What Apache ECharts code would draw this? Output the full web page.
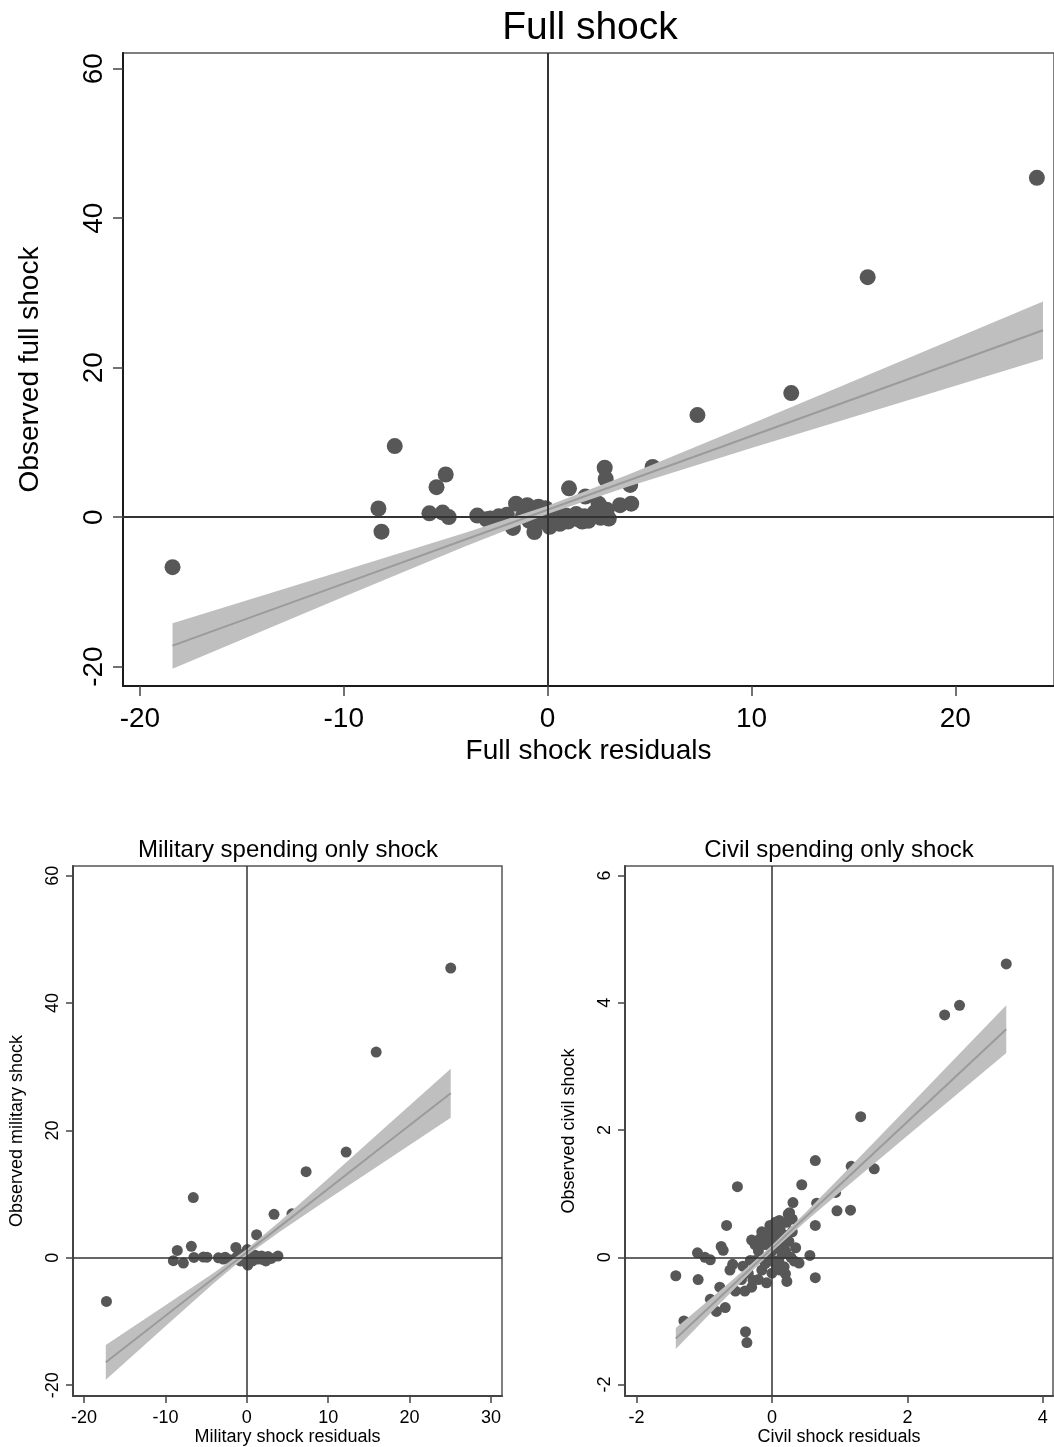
<!DOCTYPE html>
<html>
<head>
<meta charset="utf-8">
<title>Full, military and civil spending shocks</title>
<script src="https://cdn.jsdelivr.net/npm/echarts@6/dist/echarts.min.js"></script>
<style>
  html, body { margin: 0; padding: 0; background: #fff; }
  #chart { width: 1054px; height: 1447px; }
</style>
</head>
<body>
<div id="chart"></div>
<script>
// ---- Full shock: residuals vs observed ----
var fullPoints = [
  [-18.4, -6.7], [-7.5, 9.5], [-8.3, 1.15], [-8.15, -1.95], [-5.45, 4.0], [-5.0, 5.7],
  [-5.8, 0.5], [-5.15, 0.6], [-4.85, 0.0], [-3.45, 0.2], [-3.0, -0.3], [-2.8, -0.2],
  [-2.4, 0.1], [-2.0, 0.3], [-1.55, 1.8], [-1.7, -1.45], [-1.2, 0.2], [-1.0, 1.6],
  [-0.45, 1.4], [-0.65, -2.0], [-0.9, -0.5], [-0.4, 0.8], [-0.2, -0.6], [-0.1, 1.2],
  [0.1, -1.3], [0.05, -0.4], [0.5, 0.5], [0.6, -0.9], [0.9, 0.2], [1.0, -0.6],
  [1.05, 3.85], [1.4, 0.4], [1.5, -0.3], [1.85, 2.75], [1.7, -0.6], [1.8, 0.1],
  [2.0, -0.5], [2.3, 0.6], [2.5, 1.8], [2.6, -0.1], [2.8, 6.6], [2.85, 5.1],
  [2.9, 1.0], [3.0, -0.2], [3.55, 1.6], [4.1, 1.8], [4.05, 4.3], [5.15, 6.7],
  [7.35, 13.65], [11.95, 16.6], [15.7, 32.1], [24.0, 45.4]
];
var fullFitX  = [-18.4, -10, -4, 0, 4, 10, 17, 24.3];
var fullFitY  = [-17.2, -8.9, -2.97, 0.98, 4.93, 10.86, 17.78, 25.0];
var fullBandLo = [-20.3, -10.65, -3.87, 0.43, 4.13, 9.23, 15.07, 21.15];
var fullBandHi = [-14.2, -7.15, -2.07, 1.53, 5.73, 12.49, 20.49, 28.85];

// ---- Military spending only shock ----
var militaryPoints = [
  [-17.25, -6.85], [-6.58, 9.45], [-8.55, 1.15], [-9.03, -0.45], [-7.8, -0.82], [-6.82, 1.8],
  [-6.5, 0.05], [-5.34, 0.12], [-4.9, 0.1], [-3.49, 0.0], [-2.9, -0.2], [-2.67, 0.1],
  [-2.05, -0.3], [-1.35, 1.63], [-1.2, 0.2], [-0.8, -0.5], [-0.5, 0.6], [0.05, 1.3],
  [0.12, -1.15], [-0.2, -0.6], [0.4, 0.3], [0.7, -0.5], [1.2, 3.62], [1.0, 0.4],
  [1.4, -0.2], [1.8, 0.3], [2.0, -0.3], [2.34, -0.49], [2.6, 0.2], [3.0, -0.1],
  [3.82, 0.27], [3.34, 6.83], [5.54, 6.9], [7.28, 13.53], [12.2, 16.6], [15.89, 32.3],
  [25.05, 45.5]
];
var militaryFitX  = [-17.33, -10, -4, 0, 4, 10, 17, 25.05];
var militaryFitY  = [-16.41, -9.1, -3.12, 0.87, 4.86, 10.84, 17.82, 25.84];
var militaryBandLo = [-19.14, -10.73, -3.92, 0.37, 4.06, 9.22, 15.16, 21.99];
var militaryBandHi = [-13.68, -7.47, -2.32, 1.37, 5.66, 12.46, 20.48, 29.69];

// ---- Civil spending only shock ----
var civilPoints = [
  [3.46, 4.61], [2.77, 3.96], [2.55, 3.81], [1.31, 2.21], [0.64, 1.52], [1.17, 1.43],
  [1.51, 1.39], [0.44, 1.14], [-0.51, 1.11], [0.94, 1.02], [0.31, 0.86], [0.96, 0.73],
  [1.16, 0.74], [0.64, 0.5], [-0.67, 0.5], [0.24, 0.68], [0.11, 0.58], [-0.03, 0.5],
  [-0.3, 0.27], [-0.18, 0.29], [-0.75, 0.17], [-0.72, 0.11], [-1.1, 0.07], [-0.99, 0.0],
  [-0.91, -0.04], [-1.42, -0.29], [-1.09, -0.35], [-0.58, -0.11], [-0.62, -0.2], [-0.43, -0.14],
  [-0.77, -0.47], [-0.91, -0.66], [-0.82, -0.85], [-0.69, -0.79], [-1.3, -1.0], [-0.54, -0.53],
  [-0.4, -0.53], [-0.3, -0.47], [-0.28, -0.36], [-0.39, -1.17], [-0.37, -1.34], [0.2, -0.26],
  [0.22, -0.38], [0.33, -0.06], [0.4, -0.09], [0.56, 0.03], [0.64, -0.32], [0.66, 0.85],
  [-0.25, -0.05], [-0.2, 0.1], [-0.15, -0.2], [-0.1, 0.2], [-0.1, -0.1], [-0.05, 0.35],
  [-0.05, 0.0], [0.0, 0.1], [0.0, -0.25], [0.02, 0.25], [0.05, 0.4], [0.05, -0.1],
  [0.08, 0.15], [0.1, 0.3], [0.1, -0.05], [0.12, 0.45], [0.15, 0.05], [0.15, 0.2],
  [0.18, 0.35], [0.2, 0.1], [0.22, 0.55], [0.25, 0.25], [0.28, 0.0], [0.3, 0.4],
  [-0.15, 0.4], [-0.25, 0.2], [-0.35, -0.25], [-0.45, -0.35], [-0.2, -0.35], [0.05, 0.55],
  [0.18, -0.15], [0.35, 0.15], [-0.08, -0.4], [0.12, -0.2], [0.3, 0.6], [0.26, 0.7],
  [-0.32, -0.05], [0.02, -0.05]
];
var civilFitX  = [-1.42, -0.8, -0.3, 0, 0.5, 1, 2, 3.46];
var civilFitY  = [-1.275, -0.658, -0.16, 0.139, 0.637, 1.135, 2.131, 3.585];
var civilBandLo = [-1.44, -0.761, -0.222, 0.089, 0.566, 1.018, 1.911, 3.21];
var civilBandHi = [-1.11, -0.555, -0.098, 0.189, 0.708, 1.252, 2.351, 3.96];

// ---- tick values ----
var fullXTicks = [-20, -10, 0, 10, 20];
var fullYTicks = [-20, 0, 20, 40, 60];
var militaryXTicks = [-20, -10, 0, 10, 20, 30];
var militaryYTicks = [-20, 0, 20, 40, 60];
var civilXTicks = [-2, 0, 2, 4];
var civilYTicks = [-2, 0, 2, 4, 6];

var FONT = '"Liberation Sans", Arial, Helvetica, sans-serif';
var DOT = '#575757';
var BAND = '#bfbfbf';
var FIT = '#9b9b9b';

function pairs(xs, ys) {
  return xs.map(function (x, i) { return [x, ys[i]]; });
}

function xAxisDef(idx, min, max, ticks, name, big) {
  return {
    type: 'value', gridIndex: idx, min: min, max: max,
    name: name, nameLocation: 'middle', nameGap: big ? 51 : 32,
    nameTextStyle: { fontFamily: FONT, fontSize: big ? 28 : 18, color: '#000' },
    axisLine: { show: true, onZero: false, lineStyle: { color: big ? '#1a1a1a' : '#444', width: 2 } },
    axisTick: { show: true, customValues: ticks, length: big ? 10 : 7, lineStyle: { color: '#444', width: 1.5 } },
    axisLabel: { customValues: ticks, fontFamily: FONT, fontSize: big ? 28 : 18, color: '#000', margin: big ? 19 : 13 },
    splitLine: { show: false }
  };
}

function yAxisDef(idx, min, max, ticks, name, big) {
  return {
    type: 'value', gridIndex: idx, min: min, max: max,
    name: name, nameLocation: 'middle', nameGap: big ? 79 : 47, nameRotate: 90,
    nameTextStyle: { fontFamily: FONT, fontSize: big ? 28 : 18, color: '#000' },
    axisLine: { show: true, onZero: false, lineStyle: { color: big ? '#1a1a1a' : '#444', width: 2 } },
    axisTick: { show: true, customValues: ticks, length: big ? 10 : 7, lineStyle: { color: '#444', width: 1.5 } },
    axisLabel: { customValues: ticks, rotate: 90, fontFamily: FONT, fontSize: big ? 28 : 18, color: '#000', margin: big ? 15 : 11 },
    splitLine: { show: false }
  };
}

function refLines(idx, width) {
  return {
    type: 'line', xAxisIndex: idx, yAxisIndex: idx, data: [], z: 1, silent: true,
    markLine: {
      silent: true, symbol: ['none', 'none'], label: { show: false },
      lineStyle: { color: '#333', width: width, type: 'solid' },
      data: [{ xAxis: 0 }, { yAxis: 0 }],
      animation: false
    }
  };
}

function scatterSeries(idx, pts, size) {
  return {
    type: 'scatter', xAxisIndex: idx, yAxisIndex: idx, data: pts, z: 2,
    symbol: 'circle', symbolSize: size, silent: true,
    itemStyle: { color: DOT, opacity: 1 }
  };
}

function bandSeries(idx, xs, lo, hi) {
  return {
    type: 'custom', xAxisIndex: idx, yAxisIndex: idx, z: 3, silent: true,
    data: [[xs[0], lo[0]]],
    renderItem: function (params, api) {
      var pts = [];
      for (var i = 0; i < xs.length; i++) pts.push(api.coord([xs[i], hi[i]]));
      for (var j = xs.length - 1; j >= 0; j--) pts.push(api.coord([xs[j], lo[j]]));
      return { type: 'polygon', shape: { points: pts }, style: { fill: BAND } };
    }
  };
}

function fitSeries(idx, xs, ys) {
  return {
    type: 'line', xAxisIndex: idx, yAxisIndex: idx, data: pairs(xs, ys), z: 4,
    showSymbol: false, silent: true,
    lineStyle: { color: FIT, width: 2 }
  };
}

var gridStyle = { show: true, borderColor: '#555', borderWidth: 1.5, backgroundColor: 'transparent' };

var option = {
  animation: false,
  backgroundColor: '#fff',
  grid: [
    Object.assign({ left: 123, top: 53, width: 934, height: 633 }, gridStyle),
    Object.assign({ left: 73, top: 866, width: 429, height: 531 }, gridStyle),
    Object.assign({ left: 625, top: 866, width: 428, height: 531 }, gridStyle)
  ],
  xAxis: [
    xAxisDef(0, -20.83, 24.84, fullXTicks, 'Full shock residuals', true),
    xAxisDef(1, -21.36, 31.35, militaryXTicks, 'Military shock residuals', false),
    xAxisDef(2, -2.17, 4.15, civilXTicks, 'Civil shock residuals', false)
  ],
  yAxis: [
    yAxisDef(0, -22.6, 62.1, fullYTicks, 'Observed full shock', true),
    yAxisDef(1, -21.7, 61.52, militaryYTicks, 'Observed military shock', false),
    yAxisDef(2, -2.18, 6.15, civilYTicks, 'Observed civil shock', false)
  ],
  graphic: [
    { type: 'text', x: 590, y: 28, style: { text: 'Full shock', font: '39px ' + FONT, fill: '#000', align: 'center', verticalAlign: 'middle' } },
    { type: 'text', x: 288, y: 850, style: { text: 'Military spending only shock', font: '24px ' + FONT, fill: '#000', align: 'center', verticalAlign: 'middle' } },
    { type: 'text', x: 839, y: 850, style: { text: 'Civil spending only shock', font: '24px ' + FONT, fill: '#000', align: 'center', verticalAlign: 'middle' } }
  ],
  series: [
    refLines(0, 2),
    scatterSeries(0, fullPoints, 16),
    bandSeries(0, fullFitX, fullBandLo, fullBandHi),
    fitSeries(0, fullFitX, fullFitY),

    refLines(1, 1.5),
    scatterSeries(1, militaryPoints, 11),
    bandSeries(1, militaryFitX, militaryBandLo, militaryBandHi),
    fitSeries(1, militaryFitX, militaryFitY),

    refLines(2, 1.5),
    scatterSeries(2, civilPoints, 11),
    bandSeries(2, civilFitX, civilBandLo, civilBandHi),
    fitSeries(2, civilFitX, civilFitY)
  ]
};

var chart = echarts.init(document.getElementById('chart'), null, { renderer: 'canvas' });
chart.setOption(option);
</script>
</body>
</html>
